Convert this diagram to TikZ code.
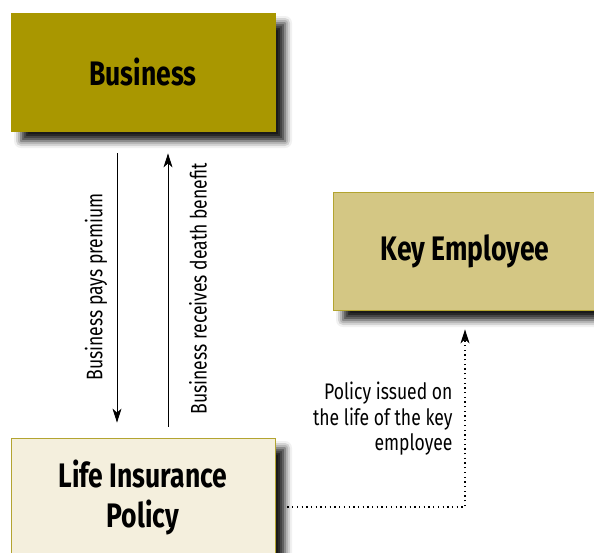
\documentclass[tikz,border=0pt]{standalone}
\usepackage{fontspec}
\setmainfont{Fira Sans}[FakeStretch=0.78]
\usepackage{tikz}
\usetikzlibrary{arrows.meta}
\usetikzlibrary{shadows.blur}

\definecolor{olive}{HTML}{A99700}
\definecolor{sand}{HTML}{D4C784}
\definecolor{cream}{HTML}{F4EFDD}
\definecolor{rim}{HTML}{B3A430}

\begin{document}
\begin{tikzpicture}[x=1pt,y=-1pt]
\tikzset{>={Stealth[width=9pt,length=14pt,inset=4pt]}}
\tikzstyle{party} =[draw=rim, line width=0.8pt, minimum width=264pt, minimum height=118pt, align=center,
  font=\fontsize{34}{40}\selectfont\bfseries,
  blur shadow={shadow xshift=10pt, shadow yshift=-10pt, shadow blur radius=7pt, shadow opacity=90}]
\tikzstyle{flow} =[font=\fontsize{22.5}{25.5}\selectfont]
\tikzstyle{tie} =[line width=1.3pt, dash pattern=on 1.3pt off 3.4pt]

\useasboundingbox (0,0) rectangle (594,552);

\node[party,fill=olive,draw=olive](business) at (143,72){Business};
\node[party,fill=sand](keyemp) at (465,251){Key Employee};
\node[party,fill=cream](policy) at (143,497){Life Insurance\\Policy};

% premium down, benefit up
\draw [->,line width=0.9pt,shorten <=22pt,shorten >=15pt] ([xshift=-26pt]business.south) to ([xshift=-26pt]policy.north);
\draw [->,line width=0.9pt,shorten <=11pt,shorten >=22pt] ([xshift=25pt]policy.north) to ([xshift=25pt]business.south);
\node[flow,rotate=90](pays) at (96,287){Business pays premium};
\node[flow,rotate=90](gets) at (198,289){Business receives death benefit};

% who the policy covers
\draw [->,tie,shorten >=19pt] ([xshift=12pt,yshift=-10pt]policy.east) -| (keyemp.south);
\node[flow,anchor=east,align=right](covers) at (456,419){Policy issued on\\the life of the key\\employee};
\end{tikzpicture}
\end{document}
